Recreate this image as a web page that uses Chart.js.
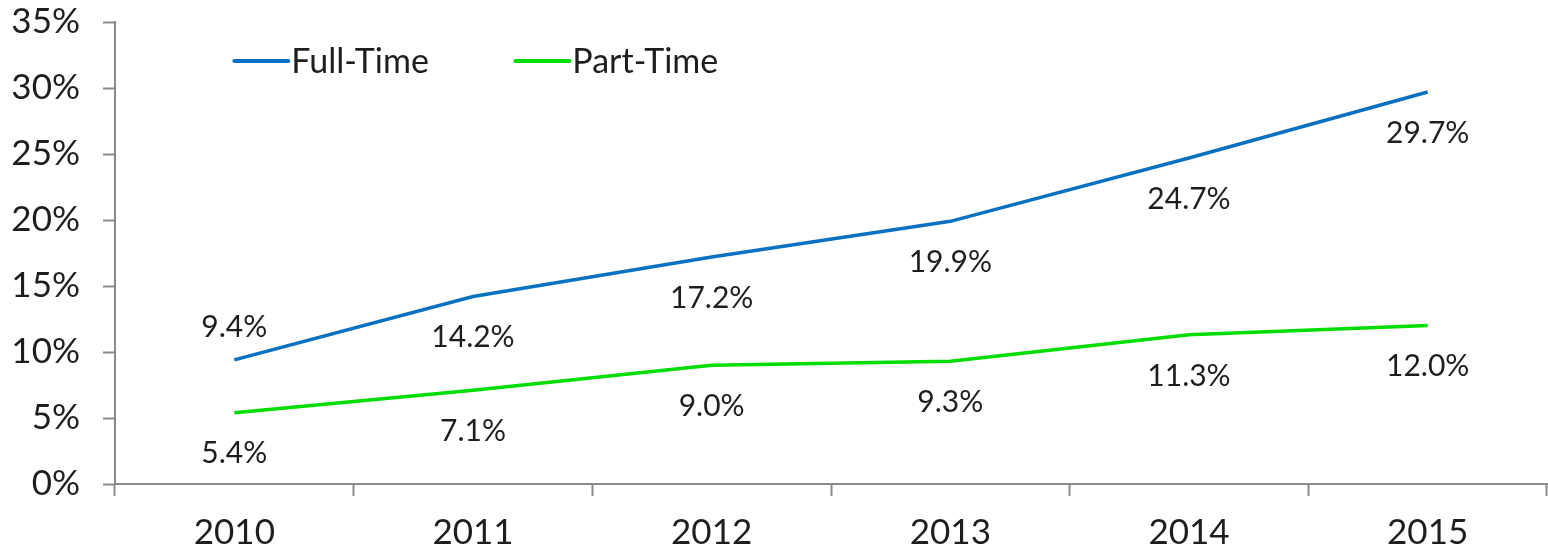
<!DOCTYPE html>
<html>
<head>
<meta charset="utf-8">
<script src="https://cdn.jsdelivr.net/npm/chart.js@4/dist/chart.umd.min.js"></script>
<style>
  html, body { margin: 0; padding: 0; background: #fff; }
  #wrap { width: 1548px; height: 554px; }
</style>
</head>
<body>
<div id="wrap"><canvas id="chart" width="1548" height="554"></canvas></div>
<script>
const years = ['2010', '2011', '2012', '2013', '2014', '2015'];
const fullTime = [9.4, 14.2, 17.2, 19.9, 24.7, 29.7];
const partTime = [5.4, 7.1, 9.0, 9.3, 11.3, 12.0];
const fullTimeLabelSide = ['above', 'below', 'below', 'below', 'below', 'below'];
const partTimeLabelSide = ['below', 'below', 'below', 'below', 'below', 'below'];

const FONT = 'Lato, "DejaVu Sans", sans-serif';
const TEXT = '#1e1e1e';
const AXIS = '#8a8a8a';

// draws value labels next to each point
const valueLabels = {
  id: 'valueLabels',
  afterDatasetsDraw(chart) {
    const ctx = chart.ctx;
    ctx.save();
    ctx.font = '30px ' + FONT;
    ctx.fillStyle = TEXT;
    ctx.textAlign = 'center';
    ctx.textBaseline = 'middle';
    chart.data.datasets.forEach((ds, i) => {
      const meta = chart.getDatasetMeta(i);
      meta.data.forEach((pt, j) => {
        const dy = ds.labelSide[j] === 'above' ? -33 : 41;
        ctx.fillText(ds.data[j].toFixed(1) + '%', pt.x, pt.y + dy);
      });
    });
    ctx.restore();
  }
};

// legend inside the plot, top left
const insideLegend = {
  id: 'insideLegend',
  afterDraw(chart) {
    const ctx = chart.ctx;
    const x0 = chart.scales.x.getPixelForValue(0);
    const y = 61;
    ctx.save();
    ctx.font = '34px ' + FONT;
    ctx.textBaseline = 'middle';
    ctx.textAlign = 'left';
    chart.data.datasets.forEach((ds, i) => {
      const x = x0 + i * 281;
      ctx.strokeStyle = ds.borderColor;
      ctx.lineWidth = 4;
      ctx.lineCap = 'round';
      ctx.beginPath();
      ctx.moveTo(x, y);
      ctx.lineTo(x + 54, y);
      ctx.stroke();
      ctx.fillStyle = TEXT;
      ctx.fillText(ds.label, x + 57, y + 1);
    });
    ctx.restore();
  }
};

new Chart(document.getElementById('chart'), {
  type: 'line',
  data: {
    labels: years,
    datasets: [
      {
        label: 'Full-Time',
        data: fullTime,
        labelSide: fullTimeLabelSide,
        borderColor: '#0a70c0',
        borderWidth: 3.5,
        pointRadius: 0,
        tension: 0
      },
      {
        label: 'Part-Time',
        data: partTime,
        labelSide: partTimeLabelSide,
        borderColor: '#00dd00',
        borderWidth: 3.5,
        pointRadius: 0,
        tension: 0
      }
    ]
  },
  options: {
    responsive: false,
    animation: false,
    layout: { padding: { top: 22, right: 1, left: 0, bottom: 0 } },
    plugins: {
      legend: { display: false },
      tooltip: { enabled: false }
    },
    scales: {
      x: {
        offset: true,
        grid: {
          offset: true,
          drawOnChartArea: false,
          drawTicks: true,
          tickLength: 12,
          tickWidth: 2,
          tickColor: AXIS
        },
        border: { display: true, color: AXIS, width: 2 },
        ticks: {
          color: TEXT,
          font: { family: FONT, size: 35 },
          padding: 16,
          maxRotation: 0
        },
        afterFit(scale) { scale.height = 70; }
      },
      y: {
        min: 0,
        max: 35,
        grid: {
          drawOnChartArea: false,
          drawTicks: true,
          tickLength: 12,
          tickWidth: 2,
          tickColor: AXIS
        },
        border: { display: true, color: AXIS, width: 2 },
        ticks: {
          stepSize: 5,
          color: TEXT,
          font: { family: FONT, size: 35 },
          padding: 23,
          callback: v => v + '%'
        },
        afterFit(scale) {
          scale.width = 115;
          scale.paddingTop = 0;
          scale.paddingBottom = 0;
        }
      }
    }
  },
  plugins: [valueLabels, insideLegend]
});
</script>
</body>
</html>
